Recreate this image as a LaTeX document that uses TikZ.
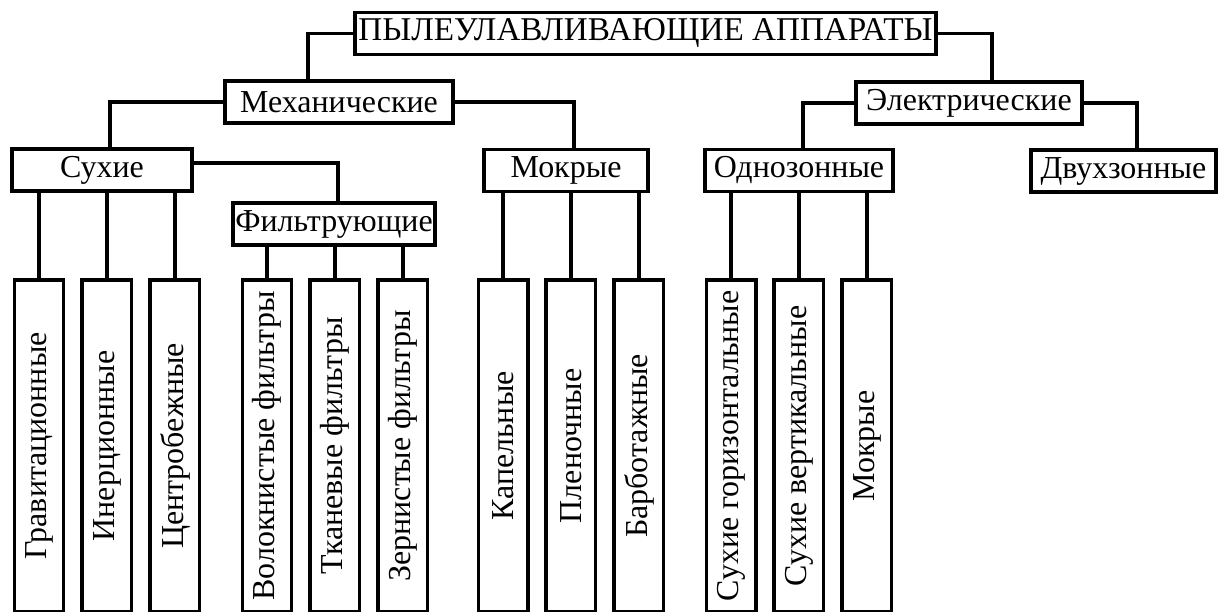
\documentclass[tikz,border=0pt]{standalone}
\usepackage{fontspec}
\setmainfont{Liberation Serif}
\usepackage{graphicx}
\usetikzlibrary{positioning}

\begin{document}
\begin{tikzpicture}[
    x=0.02cm, y=-0.02cm,
    node distance=0.3cm,
    every node/.style={font=\fontsize{18.2}{21}\selectfont},
    box/.style={draw, line width=0.07cm, inner sep=0pt, minimum height=0.85cm},
    leaf/.style={draw, line width=0.07cm, inner sep=0pt, minimum width=0.99cm, minimum height=6.65cm},
    link/.style={line width=0.07cm}
]
    \clip (0,0) rectangle (1221,612);

    % Root
    \node[box, minimum width=11.63cm, font=\fontsize{18.9}{21}\selectfont] (root) at (645.5,33.5) {ПЫЛЕУЛАВЛИВАЮЩИЕ АППАРАТЫ};

    % First level
    \node[box, minimum width=4.57cm] (mech) at (339,102) {Механические};
    \node[box, minimum width=4.53cm] (elec) at (969,103) {Электрические};

    % Second level
    \node[box, minimum width=3.61cm] (dry) at (102,170) {Сухие};
    \node[box, minimum width=3.29cm] (wet) at (566,170.5) {Мокрые};
    \node[box, minimum width=3.77cm] (onezone) at (799,170.5) {Однозонные};
    \node[box, minimum width=3.71cm] (twozone) at (1123.5,171) {Двухзонные};
    \node[box, minimum width=4.05cm] (filt) at (334,224) {Фильтрующие};

    % Leaves: dry
    \node[leaf, anchor=north] (grav) at (39,278) {\rotatebox{90}{Гравитационные}};
    \node[leaf, right=of grav] (inert) {\rotatebox{90}{Инерционные}};
    \node[leaf, right=of inert] (centr) {\rotatebox{90}{Центробежные}};

    % Leaves: filters
    \node[leaf, anchor=north] (fibre) at (267,278) {\rotatebox{90}{Волокнистые фильтры}};
    \node[leaf, right=of fibre] (cloth) {\rotatebox{90}{Тканевые фильтры}};
    \node[leaf, right=of cloth] (grain) {\rotatebox{90}{Зернистые фильтры}};

    % Leaves: wet
    \node[leaf, anchor=north] (drop) at (503,278) {\rotatebox{90}{Капельные}};
    \node[leaf, right=of drop] (film) {\rotatebox{90}{Пленочные}};
    \node[leaf, right=of film] (bubble) {\rotatebox{90}{Барботажные}};

    % Leaves: one-zone
    \node[leaf, anchor=north] (horiz) at (731,278) {\rotatebox{90}{Сухие горизонтальные}};
    \node[leaf, right=of horiz] (vert) {\rotatebox{90}{Сухие вертикальные}};
    \node[leaf, right=of vert] (wetel) {\rotatebox{90}{Мокрые}};

    % Connectors
    \draw[link] (root.west) -| ([xshift=-0.62cm]mech.north);
    \draw[link] (root.east) -| ([xshift=0.46cm]elec.north);
    \draw[link] (mech.west) -| ([xshift=0.16cm]dry.north);
    \draw[link] (mech.east) -| ([xshift=0.16cm]wet.north);
    \draw[link] (elec.west) -| ([xshift=0.08cm]onezone.north);
    \draw[link] (elec.east) -| ([xshift=0.27cm]twozone.north);
    \draw[link] ([yshift=0.14cm]dry.east) -| ([xshift=0.08cm]filt.north);

    \foreach \p/\c in {dry/grav, dry/inert, dry/centr,
                       filt/fibre, filt/cloth, filt/grain,
                       wet/drop, wet/film, wet/bubble,
                       onezone/horiz, onezone/vert, onezone/wetel}
        \draw[link] (\c.north) -- (\c.north |- \p.south);
\end{tikzpicture}
\end{document}
